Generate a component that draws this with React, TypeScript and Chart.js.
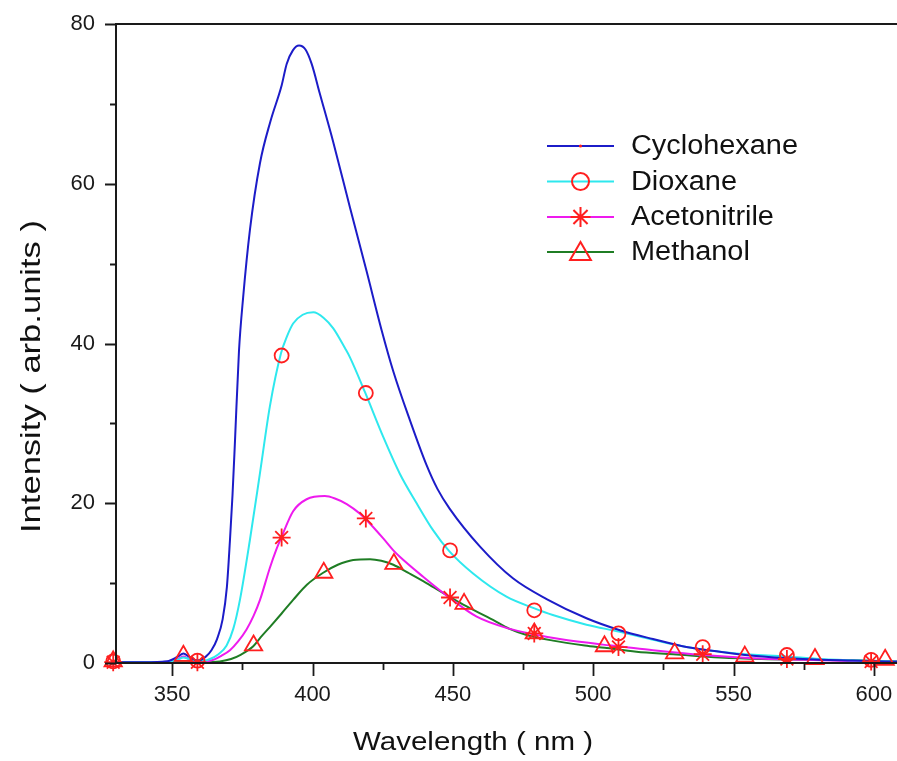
import React, { useEffect, useRef } from "react";
import { Chart, registerables } from "chart.js";

Chart.register(...registerables);

// ---------- data ----------
const cycloX = [330, 340, 348, 352, 354, 356, 359, 362, 364, 366, 368, 369.5, 370.6, 371.5, 372.4, 373.8, 375.3, 377.7, 381.3, 385, 389, 390.8, 393, 395.2, 397.5, 399.7, 402.6, 407.4, 413.3, 419.3, 424.6, 428.8, 434.7, 440.6, 444.5, 448.9, 459.6, 471.4, 483.4, 497.6, 509.5, 521.3, 533.2, 545.1, 556.9, 574.7, 592.5, 610];
const cycloY = [0.1, 0.1, 0.2, 0.8, 1.2, 0.8, 0.3, 0.8, 1.6, 3.0, 5.5, 9.5, 15.4, 21, 27.9, 39.0, 45.8, 54.2, 62.6, 67.8, 72.3, 75.0, 76.7, 77.3, 76.8, 75.0, 71.3, 65.2, 57.1, 49.0, 41.7, 36.5, 30.4, 24.8, 21.8, 19.3, 14.6, 10.6, 8.0, 5.6, 4.1, 3.0, 2.0, 1.4, 0.9, 0.5, 0.3, 0.15];

const dioxX = [330, 345, 352, 354, 356, 359, 361.5, 363.5, 366.5, 369.4, 371.8, 374.2, 377.7, 381.3, 384.8, 388.8, 390.8, 393.1, 396.5, 400.3, 404, 407.4, 411.6, 413.3, 418.7, 425.2, 431.1, 437.1, 443.0, 448.7, 457.2, 469.1, 478.6, 485.6, 497.6, 509.5, 521.3, 533.2, 551, 568.9, 580.7, 595, 610];
const dioxY = [0.1, 0.1, 0.4, 0.7, 0.5, 0.3, 0.3, 0.5, 1.1, 2.2, 4.3, 8.0, 15.4, 23.8, 32.1, 38.8, 40.8, 42.5, 43.6, 43.9, 43.2, 41.9, 39.4, 38.3, 33.9, 28.3, 23.7, 20.0, 16.6, 14.0, 11.2, 8.3, 6.9, 6.0, 4.8, 3.9, 2.9, 2.0, 1.2, 0.8, 0.5, 0.3, 0.2];

const acetoX = [330, 345, 352, 354, 356, 359, 362, 364.7, 367.5, 370.6, 373.5, 376.5, 379, 381.3, 384.8, 387, 389, 393.1, 397.9, 404.4, 408, 412.2, 416.9, 419, 425.2, 428.8, 431.1, 439.4, 448.7, 458.5, 470, 478.6, 488.1, 503.5, 508.9, 521.3, 539.2, 556.9, 575, 598.5, 610];
const acetoY = [0.1, 0.1, 0.5, 0.8, 0.5, 0.2, 0.2, 0.4, 0.9, 1.6, 2.7, 4.2, 5.9, 7.9, 11.9, 14.1, 15.8, 19.0, 20.5, 20.9, 20.6, 19.9, 18.7, 18.0, 15.6, 14.1, 13.3, 10.8, 8.2, 5.8, 4.3, 3.6, 3.0, 2.3, 2.1, 1.6, 1.0, 0.6, 0.4, 0.2, 0.15];

const methX = [330, 345, 352, 356, 362, 367, 371, 374.2, 378.9, 381.5, 384.8, 389, 393.1, 398, 403.8, 409, 414.5, 420.5, 424.5, 428.8, 434, 440.6, 448.7, 453.7, 464.3, 470, 476.3, 485.7, 497, 504.1, 515.4, 528.5, 545.1, 560, 578, 595, 610];
const methY = [0.1, 0.1, 0.1, 0.1, 0.1, 0.2, 0.5, 1.0, 2.1, 3.2, 4.5, 6.2, 7.9, 9.8, 11.3, 12.3, 12.9, 13.0, 12.8, 12.3, 11.3, 10.0, 8.3, 7.3, 5.4, 4.3, 3.5, 2.8, 2.2, 1.9, 1.4, 1.1, 0.7, 0.5, 0.4, 0.3, 0.2];

// marker symbols
const dioxMarkX = [329, 359, 389, 419, 449, 479, 509, 539, 569, 599];
const dioxMarkY = [0.2, 0.3, 38.5, 33.8, 14.1, 6.6, 3.7, 2.0, 1.0, 0.4];
const acetoMarkX = [329, 359, 389, 419, 449, 479, 509, 539, 569, 599];
const acetoMarkY = [0.1, 0.1, 15.7, 18.1, 8.2, 3.7, 2.0, 1.1, 0.5, 0.2];
const methMarkX = [329, 354, 379, 404, 429, 454, 479, 504, 529, 554, 579, 604];
const methMarkY = [0.2, 0.9, 2.2, 11.3, 12.4, 7.4, 3.7, 2.1, 1.2, 0.8, 0.5, 0.4];

// ticks
const xMajorTicks = [350, 400, 450, 500, 550, 600];
const xMinorTicks = [375, 425, 475, 525, 575];
const yMajorTicks = [0, 20, 40, 60, 80];
const yMinorTicks = [10, 30, 50, 70];

const seriesNames = ["Cyclohexane", "Dioxane", "Acetonitrile", "Methanol"];
const lineColors = ["#1c1cc8", "#2ee8ee", "#ee1aee", "#1f7d24"];
const markerStyles = ["dot", "circle", "star", "triangle"];
const xTitle = "Wavelength ( nm )";
const yTitle = "Intensity ( arb.units )";

const RED = "#ff1f1f";
const FONT = "'Liberation Sans', Arial, Helvetica, sans-serif";

const toPts = (xs: number[], ys: number[]) => xs.map((x, i) => ({ x, y: ys[i] }));

function drawMarker(ctx: CanvasRenderingContext2D, style: string, x: number, y: number) {
  ctx.save();
  ctx.strokeStyle = RED;
  ctx.fillStyle = RED;
  ctx.lineWidth = 2;
  ctx.beginPath();
  if (style === "dot") {
    ctx.arc(x, y, 1.6, 0, Math.PI * 2);
    ctx.fill();
  } else if (style === "circle") {
    ctx.arc(x, y, 8.5, 0, Math.PI * 2);
    ctx.stroke();
  } else if (style === "star") {
    const r = 10;
    for (let k = 0; k < 4; k++) {
      const a = (k * Math.PI) / 4;
      ctx.moveTo(x - Math.cos(a) * r, y - Math.sin(a) * r);
      ctx.lineTo(x + Math.cos(a) * r, y + Math.sin(a) * r);
    }
    ctx.stroke();
  } else if (style === "triangle") {
    const r = 12;
    let a = 0;
    ctx.moveTo(x + Math.sin(a) * r, y - Math.cos(a) * r + 2);
    a += (2 * Math.PI) / 3;
    ctx.lineTo(x + Math.sin(a) * r, y - Math.cos(a) * r + 2);
    a += (2 * Math.PI) / 3;
    ctx.lineTo(x + Math.sin(a) * r, y - Math.cos(a) * r + 2);
    ctx.closePath();
    ctx.stroke();
  }
  ctx.restore();
}

function stretchedText(
  ctx: CanvasRenderingContext2D,
  text: string,
  font: string,
  targetWidth: number
) {
  ctx.font = font;
  const w = ctx.measureText(text).width;
  const s = targetWidth / w;
  ctx.scale(s, 1);
  ctx.fillText(text, 0, 0);
}

const decorPlugin = {
  id: "decor",
  afterDraw(chart: any) {
    const { ctx, chartArea: a, scales } = chart;
    const xs = scales.x;
    const ys = scales.y;
    ctx.save();
    ctx.strokeStyle = "#1a1a1a";
    // frame
    ctx.lineWidth = 2;
    ctx.strokeRect(a.left, a.top, a.right - a.left, a.bottom - a.top);
    // ticks
    ctx.lineWidth = 1.8;
    ctx.beginPath();
    yMajorTicks.forEach((v) => {
      const p = Math.round(ys.getPixelForValue(v)) + 0.5;
      ctx.moveTo(a.left - 11, p);
      ctx.lineTo(a.left, p);
    });
    yMinorTicks.forEach((v) => {
      const p = Math.round(ys.getPixelForValue(v)) + 0.5;
      ctx.moveTo(a.left - 6, p);
      ctx.lineTo(a.left, p);
    });
    xMajorTicks.forEach((v) => {
      const p = Math.round(xs.getPixelForValue(v)) + 0.5;
      ctx.moveTo(p, a.bottom);
      ctx.lineTo(p, a.bottom + 13);
    });
    xMinorTicks.forEach((v) => {
      const p = Math.round(xs.getPixelForValue(v)) + 0.5;
      ctx.moveTo(p, a.bottom);
      ctx.lineTo(p, a.bottom + 7);
    });
    ctx.stroke();

    // legend
    const legendYs = [146, 181.5, 217, 252];
    ctx.font = `27px ${FONT}`;
    const legScale = 167 / ctx.measureText(seriesNames[0]).width;
    seriesNames.forEach((name, i) => {
      const y = legendYs[i];
      ctx.strokeStyle = lineColors[i];
      ctx.lineWidth = 2;
      ctx.beginPath();
      ctx.moveTo(547, y);
      ctx.lineTo(614, y);
      ctx.stroke();
      drawMarker(ctx, markerStyles[i], 580.5, y);
      ctx.save();
      ctx.fillStyle = "#111";
      ctx.textBaseline = "middle";
      ctx.textAlign = "left";
      ctx.translate(631, y + 1);
      ctx.scale(legScale, 1);
      ctx.font = `27px ${FONT}`;
      ctx.fillText(name, 0, 0);
      ctx.restore();
    });

    // axis titles
    ctx.fillStyle = "#111";
    ctx.textBaseline = "alphabetic";
    ctx.textAlign = "left";
    ctx.save();
    ctx.translate(353, 750);
    stretchedText(ctx, xTitle, `26px ${FONT}`, 240);
    ctx.restore();

    ctx.save();
    ctx.translate(40, 533);
    ctx.rotate(-Math.PI / 2);
    stretchedText(ctx, yTitle, `28px ${FONT}`, 313);
    ctx.restore();

    ctx.restore();
  },
};

export default function App() {
  const ref = useRef<HTMLCanvasElement>(null);

  useEffect(() => {
    if (!ref.current) return;
    const lineDs = (label: string, xsArr: number[], ysArr: number[], color: string) => ({
      type: "line" as const,
      label,
      data: toPts(xsArr, ysArr),
      borderColor: color,
      backgroundColor: color,
      borderWidth: 2,
      pointRadius: 0,
      cubicInterpolationMode: "monotone" as const,
      fill: false,
      order: 2,
    });
    const markDs = (label: string, xsArr: number[], ysArr: number[], style: string, r: number) => ({
      type: "line" as const,
      label,
      data: toPts(xsArr, ysArr),
      showLine: false,
      pointStyle: style,
      pointRadius: r,
      pointBorderWidth: 1.8,
      pointBorderColor: RED,
      pointBackgroundColor: "rgba(0,0,0,0)",
      clip: false as any,
      order: 1,
    });

    const chart = new Chart(ref.current, {
      type: "line",
      data: {
        datasets: [
          markDs("Dioxane markers", dioxMarkX, dioxMarkY, "circle", 7),
          markDs("Acetonitrile markers", acetoMarkX, acetoMarkY, "star", 9),
          markDs("Methanol markers", methMarkX, methMarkY, "triangle", 10),
          lineDs(seriesNames[0], cycloX, cycloY, lineColors[0]),
          lineDs(seriesNames[1], dioxX, dioxY, lineColors[1]),
          lineDs(seriesNames[2], acetoX, acetoY, lineColors[2]),
          lineDs(seriesNames[3], methX, methY, lineColors[3]),
        ] as any,
      },
      options: {
        responsive: false,
        animation: false,
        events: [],
        devicePixelRatio: 1,
        layout: { padding: { left: 0, top: 24, right: 18, bottom: 0 } },
        plugins: {
          legend: { display: false },
          tooltip: { enabled: false },
        },
        scales: {
          x: {
            type: "linear",
            min: 330,
            max: 610,
            grid: { display: false, drawTicks: false },
            border: { display: false },
            ticks: {
              padding: 19,
              color: "#1a1a1a",
              font: { family: FONT, size: 22 },
              maxRotation: 0,
              autoSkip: false,
            },
            afterBuildTicks: (s: any) => {
              s.ticks = xMajorTicks.map((v) => ({ value: v }));
            },
            afterFit: (s: any) => {
              s.height = 98;
              s.paddingLeft = 0;
              s.paddingRight = 0;
            },
          },
          y: {
            type: "linear",
            min: 0,
            max: 80,
            grid: { display: false, drawTicks: false },
            border: { display: false },
            ticks: {
              padding: 21,
              color: "#1a1a1a",
              font: { family: FONT, size: 22 },
              autoSkip: false,
            },
            afterBuildTicks: (s: any) => {
              s.ticks = yMajorTicks.map((v) => ({ value: v }));
            },
            afterFit: (s: any) => {
              s.width = 116;
              s.paddingTop = 0;
              s.paddingBottom = 0;
            },
          },
        },
      },
      plugins: [decorPlugin],
    });
    return () => chart.destroy();
  }, []);

  return (
    <div
      style={{
        position: "fixed",
        left: 0,
        top: 0,
        width: 897,
        height: 761,
        overflow: "hidden",
        background: "#ffffff",
      }}
    >
      <canvas
        ref={ref}
        width={920}
        height={761}
        style={{ display: "block", width: 920, height: 761 }}
      />
    </div>
  );
}
